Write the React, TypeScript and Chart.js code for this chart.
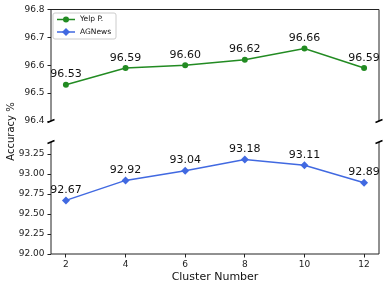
import React, { useEffect, useRef } from 'react';
import { Chart, registerables } from 'chart.js';

Chart.register(...registerables);

// ---- data ----
const clusterNumbers = [2, 4, 6, 8, 10, 12];
const yelpValues = [96.53, 96.59, 96.6, 96.62, 96.66, 96.59];
const agnewsValues = [92.67, 92.92, 93.04, 93.18, 93.11, 92.89];
const yelpTicks = [96.4, 96.5, 96.6, 96.7, 96.8];
const agnewsTicks = [92.0, 92.25, 92.5, 92.75, 93.0, 93.25];
const seriesNames = ['Yelp P.', 'AGNews'];
const xTitle = 'Cluster Number';
const yTitle = 'Accuracy %';

// ---- layout / style ----
const W = 389;
const H = 290;
const LEFT = 51;
const RIGHT = 379;
const TOP_PANEL = { top: 9.5, bottom: 121 };
const BOT_PANEL = { top: 142, bottom: 254 };
const FONT = "'DejaVu Sans', 'Liberation Sans', sans-serif";
const INK = '#222';
const GREEN = '#228B22';
const BLUE = '#4169E1';

function drawMarker(ctx: CanvasRenderingContext2D, style: string, x: number, y: number, r: number, color: string) {
  ctx.fillStyle = color;
  ctx.beginPath();
  if (style === 'circle') {
    ctx.arc(x, y, r, 0, Math.PI * 2);
  } else {
    ctx.moveTo(x, y - r);
    ctx.lineTo(x + r, y);
    ctx.lineTo(x, y + r);
    ctx.lineTo(x - r, y);
    ctx.closePath();
  }
  ctx.fill();
}

function makePanelPlugin(kind: 'top' | 'bottom', values: number[]) {
  return {
    id: 'panel-' + kind,
    afterDraw(chart: any) {
      const { ctx, chartArea: a } = chart;
      ctx.save();
      // spines
      ctx.strokeStyle = INK;
      ctx.lineWidth = 1;
      ctx.beginPath();
      ctx.moveTo(a.left, a.top);
      ctx.lineTo(a.left, a.bottom);
      ctx.moveTo(a.right, a.top);
      ctx.lineTo(a.right, a.bottom);
      if (kind === 'top') {
        ctx.moveTo(a.left, a.top);
        ctx.lineTo(a.right, a.top);
      } else {
        ctx.moveTo(a.left, a.bottom);
        ctx.lineTo(a.right, a.bottom);
      }
      ctx.stroke();
      // break marks
      const by = kind === 'top' ? a.bottom : a.top;
      ctx.lineWidth = 1.6;
      ctx.strokeStyle = '#000';
      ctx.beginPath();
      [a.left, a.right].forEach((bx: number) => {
        ctx.moveTo(bx - 3.5, by + 1.5);
        ctx.lineTo(bx + 3.5, by - 1.5);
      });
      ctx.stroke();
      // data labels
      const meta = chart.getDatasetMeta(0);
      ctx.fillStyle = '#111';
      ctx.font = `11px ${FONT}`;
      ctx.textAlign = 'center';
      ctx.textBaseline = 'alphabetic';
      meta.data.forEach((pt: any, i: number) => {
        ctx.fillText(values[i].toFixed(2), pt.x, pt.y - 7.5);
      });
      if (kind === 'top') {
        // legend
        const lx = 53, ly = 13, lw = 63, lh = 26, rr = 2;
        ctx.fillStyle = 'rgba(255,255,255,0.8)';
        ctx.strokeStyle = '#cccccc';
        ctx.lineWidth = 1;
        ctx.beginPath();
        ctx.moveTo(lx + rr, ly);
        ctx.lineTo(lx + lw - rr, ly);
        ctx.quadraticCurveTo(lx + lw, ly, lx + lw, ly + rr);
        ctx.lineTo(lx + lw, ly + lh - rr);
        ctx.quadraticCurveTo(lx + lw, ly + lh, lx + lw - rr, ly + lh);
        ctx.lineTo(lx + rr, ly + lh);
        ctx.quadraticCurveTo(lx, ly + lh, lx, ly + lh - rr);
        ctx.lineTo(lx, ly + rr);
        ctx.quadraticCurveTo(lx, ly, lx + rr, ly);
        ctx.closePath();
        ctx.fill();
        ctx.stroke();
        const rows = [
          { name: seriesNames[0], color: GREEN, style: 'circle', r: 3, y: 19.5 },
          { name: seriesNames[1], color: BLUE, style: 'diamond', r: 4, y: 32 },
        ];
        rows.forEach((row) => {
          ctx.strokeStyle = row.color;
          ctx.lineWidth = 1.5;
          ctx.beginPath();
          ctx.moveTo(57, row.y);
          ctx.lineTo(75, row.y);
          ctx.stroke();
          drawMarker(ctx, row.style, 66, row.y, row.r, row.color);
          ctx.fillStyle = '#111';
          ctx.font = `7.5px ${FONT}`;
          ctx.textAlign = 'left';
          ctx.textBaseline = 'middle';
          ctx.fillText(row.name, 80, row.y);
        });
      } else {
        // shared y title
        ctx.fillStyle = '#111';
        ctx.font = `10px ${FONT}`;
        ctx.textAlign = 'center';
        ctx.textBaseline = 'middle';
        ctx.translate(11, 131.5);
        ctx.rotate(-Math.PI / 2);
        ctx.fillText(yTitle, 0, 0);
      }
      ctx.restore();
    },
  };
}

function yScale(min: number, max: number, ticks: number[], decimals: number) {
  return {
    type: 'linear',
    min,
    max,
    afterBuildTicks: (s: any) => {
      s.ticks = ticks.map((v) => ({ value: v }));
    },
    afterFit: (s: any) => {
      s.width = LEFT;
    },
    ticks: {
      callback: (v: any) => Number(v).toFixed(decimals),
      font: { family: FONT, size: 9 },
      color: INK,
      padding: 3,
    },
    grid: {
      display: true,
      drawOnChartArea: false,
      drawTicks: true,
      tickLength: 3.5,
      color: INK,
      lineWidth: 1,
    },
    border: { display: false },
  };
}

export default function App() {
  const topRef = useRef<HTMLCanvasElement>(null);
  const botRef = useRef<HTMLCanvasElement>(null);

  useEffect(() => {
    const common: any = {
      responsive: false,
      animation: false,
      events: [],
      plugins: { legend: { display: false }, tooltip: { enabled: false } },
    };

    const topChart = new Chart(topRef.current as HTMLCanvasElement, {
      type: 'line',
      data: {
        datasets: [
          {
            label: seriesNames[0],
            data: clusterNumbers.map((x, i) => ({ x, y: yelpValues[i] })),
            borderColor: GREEN,
            backgroundColor: GREEN,
            borderWidth: 1.5,
            pointStyle: 'circle',
            pointRadius: 3,
            pointBorderWidth: 0,
            clip: false,
          },
        ],
      },
      options: {
        ...common,
        layout: { padding: { left: 0, right: W - RIGHT, top: TOP_PANEL.top, bottom: H - TOP_PANEL.bottom } },
        scales: {
          x: { type: 'linear', min: 1.5, max: 12.5, display: false },
          y: yScale(96.4, 96.8, yelpTicks, 1),
        },
      } as any,
      plugins: [makePanelPlugin('top', yelpValues)],
    });

    const botChart = new Chart(botRef.current as HTMLCanvasElement, {
      type: 'line',
      data: {
        datasets: [
          {
            label: seriesNames[1],
            data: clusterNumbers.map((x, i) => ({ x, y: agnewsValues[i] })),
            borderColor: BLUE,
            backgroundColor: BLUE,
            borderWidth: 1.5,
            pointStyle: 'rectRot',
            pointRadius: 4,
            pointBorderWidth: 0,
            clip: false,
          },
        ],
      },
      options: {
        ...common,
        layout: { padding: { left: 0, right: W - RIGHT, top: BOT_PANEL.top, bottom: 0 } },
        scales: {
          x: {
            type: 'linear',
            min: 1.5,
            max: 12.5,
            afterBuildTicks: (s: any) => {
              s.ticks = clusterNumbers.map((v) => ({ value: v }));
            },
            afterFit: (s: any) => {
              s.height = H - BOT_PANEL.bottom;
            },
            ticks: {
              autoSkip: false,
              maxRotation: 0,
              callback: (v: any) => String(v),
              font: { family: FONT, size: 9 },
              color: INK,
              padding: 2,
            },
            grid: {
              display: true,
              drawOnChartArea: false,
              drawTicks: true,
              tickLength: 3.5,
              color: INK,
              lineWidth: 1,
            },
            border: { display: false },
            title: {
              display: true,
              text: xTitle,
              color: '#111',
              font: { family: FONT, size: 11 },
              padding: { top: 0, bottom: 6 },
            },
          },
          y: yScale(92.0, 93.4, agnewsTicks, 2),
        },
      } as any,
      plugins: [makePanelPlugin('bottom', agnewsValues)],
    });

    return () => {
      topChart.destroy();
      botChart.destroy();
    };
  }, []);

  const canvasStyle: React.CSSProperties = { position: 'absolute', left: 0, top: 0, width: W, height: H };
  return (
    <div style={{ position: 'absolute', left: 0, top: 0, width: W, height: H, background: '#fff' }}>
      <canvas ref={topRef} width={W} height={H} style={canvasStyle} />
      <canvas ref={botRef} width={W} height={H} style={canvasStyle} />
    </div>
  );
}
